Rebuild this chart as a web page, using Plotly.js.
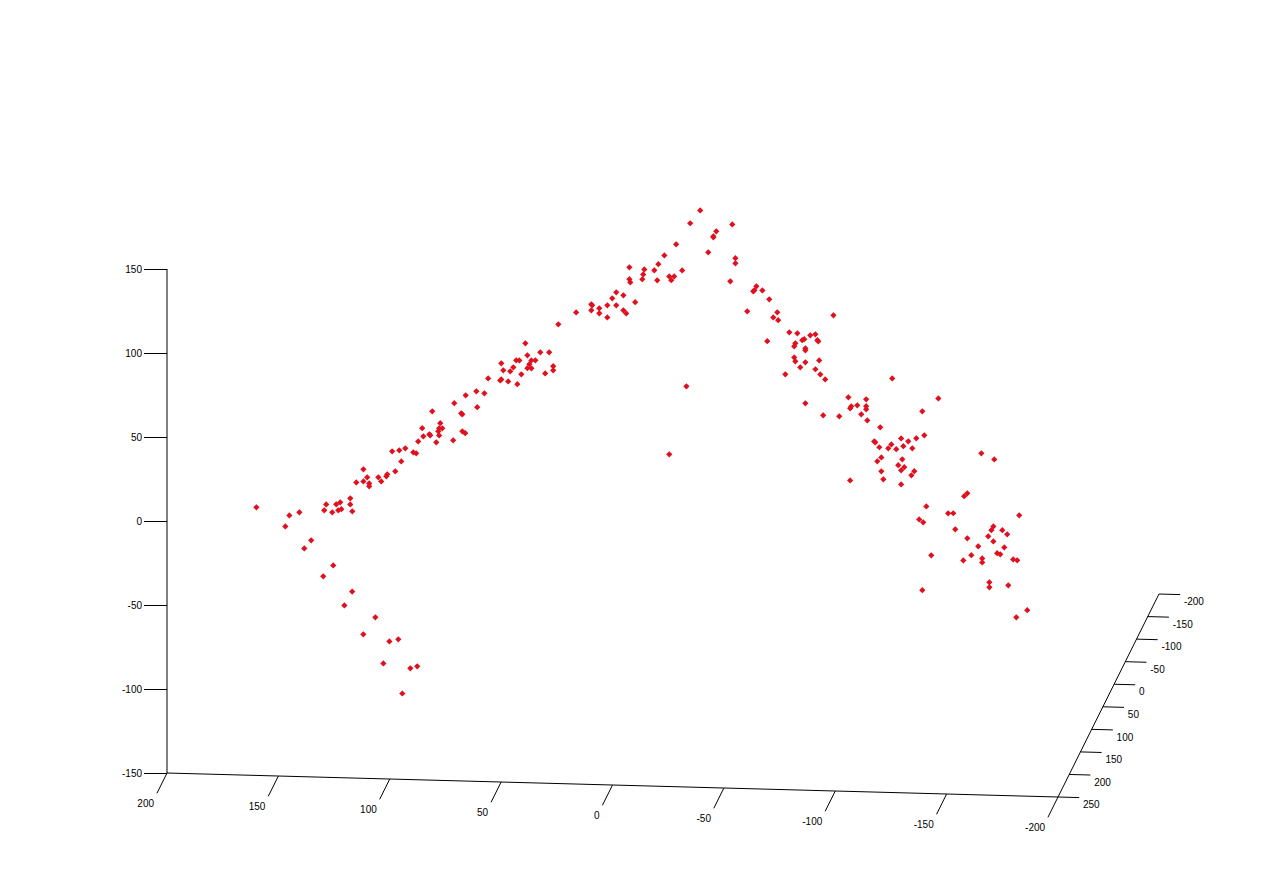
<!DOCTYPE html>
<html><head><meta charset="utf-8">
<script src="https://cdn.plot.ly/plotly-3.0.1.min.js"></script>
<style>html,body{margin:0;padding:0;background:#fff;overflow:hidden}#plot{width:1281px;height:896px}</style>
</head><body><div id="plot"></div>
<script>
// Lower-left branch (depth estimated)
const xFront = [164.9,150.1,145.6,151.9,140.3,143.4,130.4,134.9,121.9,125.4,111.5,116.9,101.2,105.2,107.9,92.7,95.8,99.4];
const zFront = [-4.0,-8.3,-6.3,-14.9,-22.8,-27.7,-37.4,-44.0,-52.6,-61.0,-67.6,-77.9,-80.3,-81.7,-94.9,-96.1,-97.4,-112.5];
const depthFront = 200;
// Main arch (depth estimated)
const xBack = [153.7,154.6,149.2,147.4,148.3,146.9,151.0,142.9,142.9,142.0,140.2,137.0,137.0,135.3,134.4,134.4,130.3,129.0,126.7,126.3,122.7,120.0,124.1,120.9,118.2,114.6,113.3,112.4,110.1,110.6,107.4,107.0,104.3,103.0,103.4,103.0,101.6,102.5,96.7,106.1,92.6,91.3,93.1,92.6,96.2,85.9,91.1,86.3,82.7,81.0,75.6,75.1,72.0,67.9,66.1,71.1,74.2,69.7,75.1,68.4,67.0,63.4,64.3,61.6,59.8,62.5,63.4,61.6,57.6,53.6,55.4,51.8,51.8,49.5,41.5,34.7,34.3,34.7,31.1,31.1,27.5,27.5,25.3,23.5,23.5,20.3,20.3,19.0,15.0,17.6,17.6,17.2,11.8,11.4,10.9,6.4,4.6,5.1,1.9,-0.3,-1.2,-2.5,-3.4,-6.1,-9.7,-14.2,-17.8,-20.1,-20.1,-21.4,-28.6,-27.7,-30.0,-30.0,-35.3,-8.0,-0.3,-38.0,-38.5,-39.4,-42.1,-45.2,-44.3,-48.8,-47.0,-49.2,-54.2,-57.8,-63.6,-65.9,-74.0,-66.8,-67.2,-60.0,-60.9,-56.9,-56.4,-61.4,-61.4,-56.4,-56.9,-61.4,-67.6,-59.1,-65.9,-52.4,-68.1,-70.3,-61.4,-69.4,-76.6,-80.7,-84.7,-82.0,-81.5,-86.5,-100.4,-88.7,-88.7,-88.7,-89.2,-113.9,-121.1,-95.0,-92.3,-92.8,-104.4,-107.6,-111.2,-114.8,-100.0,-105.4,-94.6,-98.6,-102.2,-109.4,-95.5,-93.7,-104.9,-103.1,-105.8,-104.4,-95.5,-110.3,-109.0,-96.4,-81.5,-104.4,-140.4,-146.2,-134.1,-132.7,-115.7,-125.5,-127.8,-112.5,-114.3,-157.4,-128.7,-145.8,-144.9,-149.8,-152.0,-143.5,-134.1,-145.8,-139.0,-150.7,-117.9,-135.9,-147.5,-148.9,-132.3,-140.8,-140.8,-154.7,-156.5,-144.0,-144.0,-152.5,-113.9,-161.0,-156.1];
const zBack = [-55.6,-59.1,-55.4,-54.1,-58.9,-58.2,-60.2,-51.6,-55.2,-59.3,-42.0,-34.1,-41.3,-38.8,-42.4,-44.1,-38.6,-41.0,-37.9,-36.7,-34.8,-28.8,-22.9,-22.2,-20.9,-23.2,-23.7,-16.6,-13.5,-8.7,-12.2,-12.8,-16.9,-12.7,-10.3,-8.5,-8.4,-5.4,-15.4,1.5,-9.9,-11.0,0.8,0.2,6.7,4.7,11.6,14.1,13.1,22.0,21.0,21.6,20.5,19.0,25.0,26.6,27.1,29.0,31.2,33.2,33.2,36.4,43.5,33.4,33.5,31.1,28.7,28.7,38.4,38.5,25.9,30.3,27.9,55.3,62.7,67.8,67.2,64.2,65.5,62.5,67.4,60.2,71.7,75.3,67.6,73.6,64.7,62.9,69.7,90.4,83.3,81.5,83.5,86.4,89.4,89.0,92.7,83.1,98.0,85.6,83.4,85.7,104.8,89.4,117.6,125.4,100.6,110.2,109.6,113.2,117.6,83.7,97.5,94.5,66.1,20.5,-20.3,78.1,78.7,81.1,78.8,73.6,48.6,66.0,62.9,61.3,54.3,53.8,52.8,53.5,65.1,50.0,49.4,49.8,50.4,47.8,46.0,45.0,43.8,39.4,37.1,36.7,38.0,33.6,32.7,29.2,29.7,26.8,12.3,5.4,5.1,16.5,11.9,11.2,10.0,6.6,28.5,15.6,11.5,9.7,3.1,9.4,17.3,-0.8,-9.3,-9.8,-7.1,-8.7,-6.8,-4.9,-10.8,-11.7,-12.7,-13.2,-13.6,-12.8,-18.7,-21.1,-19.5,-23.1,-24.2,-26.1,-27.0,-26.4,-28.9,-31.7,-32.9,-34.5,-14.7,-18.1,-38.7,-40.5,-47.2,-50.9,-50.8,-55.0,-56.7,-51.0,-60.3,-58.0,-60.3,-60.1,-62.5,-64.0,-65.5,-66.9,-70.1,-70.3,-76.2,-75.5,-73.9,-74.5,-78.7,-77.2,-79.6,-77.3,-77.8,-91.3,-94.3,-92.8,-97.1,-107.3,-111.7];
const depthBack = 0;
const xTicks = [200,150,100,50,0,-50,-100,-150,-200];
const yTicks = [-200,-150,-100,-50,0,50,100,150,200,250];
const zTicks = [-150,-100,-50,0,50,100,150];

// Oblique projection of the 3-D box onto the plot plane.
const Y_FRONT = 250, X_LEFT = 200, X_RIGHT = -200, Y_BACK = -200, Z_FLOOR = -150, Z_TOP = 150;
const px = (x, y) => x - 0.1007 * (Y_FRONT - y);
const py = (x, y, z) => z - 0.0357 * (X_LEFT - x) + 0.2685 * (Y_FRONT - y);

const allX = xFront.concat(xBack);
const allZ = zFront.concat(zBack);
const allY = xFront.map(() => depthFront).concat(xBack.map(() => depthBack));

// Axis lines and tick marks, placed through the same projection.
const lx = [], ly = [];
function seg(a, b) {
  lx.push(px(a[0], a[1]), px(b[0], b[1]), null);
  ly.push(py(a[0], a[1], a[2]), py(b[0], b[1], b[2]), null);
}
seg([X_LEFT, Y_FRONT, Z_FLOOR], [X_RIGHT, Y_FRONT, Z_FLOOR]);
seg([X_RIGHT, Y_FRONT, Z_FLOOR], [X_RIGHT, Y_BACK, Z_FLOOR]);
seg([X_LEFT, Y_FRONT, Z_FLOOR], [X_LEFT, Y_FRONT, Z_TOP]);
xTicks.forEach(t => seg([t, Y_FRONT, Z_FLOOR], [t, Y_FRONT + 45, Z_FLOOR]));
yTicks.forEach(t => seg([X_RIGHT, t, Z_FLOOR], [X_RIGHT - 9.5, t, Z_FLOOR]));

const labelFont = {family: 'Liberation Sans, Arial, sans-serif', size: 10, color: '#000'};

Plotly.newPlot('plot', [
  {
    type: 'scatter', mode: 'lines', x: lx, y: ly, hoverinfo: 'skip',
    line: {color: '#000', width: 1}
  },
  {
    type: 'scatter', mode: 'text', hoverinfo: 'skip',
    x: xTicks.map(t => px(t - 0.63, Y_FRONT + 64)),
    y: xTicks.map(t => py(t - 0.63, Y_FRONT + 64, Z_FLOOR - 1.8)),
    text: xTicks.map(String), textposition: 'middle left', textfont: labelFont
  },
  {
    type: 'scatter', mode: 'text', hoverinfo: 'skip',
    x: yTicks.map(t => px(X_RIGHT - 11.2, t)),
    y: yTicks.map(t => py(X_RIGHT - 11.2, t, Z_FLOOR - 4.8)),
    text: yTicks.map(String), textposition: 'middle right', textfont: labelFont
  },
  {
    type: 'scatter', mode: 'markers',
    x: allX.map((x, i) => px(x, allY[i])),
    y: allZ.map((z, i) => py(allX[i], allY[i], z)),
    marker: {symbol: 'diamond', size: 4.8, color: '#e0101f', line: {width: 0}}
  }
], {
  width: 1281, height: 896, showlegend: false,
  margin: {l: 0, r: 0, t: 0, b: 0},
  paper_bgcolor: '#fff', plot_bgcolor: '#fff',
  xaxis: {range: [274.97, -300.1], domain: [0, 1], visible: false, fixedrange: true},
  yaxis: {
    range: [-223.2, 310.12], anchor: 'free', position: 0.13037,
    tickvals: zTicks, ticktext: zTicks.map(String),
    showgrid: false, zeroline: false, showline: false,
    ticks: 'outside', ticklen: 23, tickcolor: '#000', tickwidth: 1,
    tickfont: labelFont, fixedrange: true
  }
}, {displayModeBar: false});
</script></body></html>
